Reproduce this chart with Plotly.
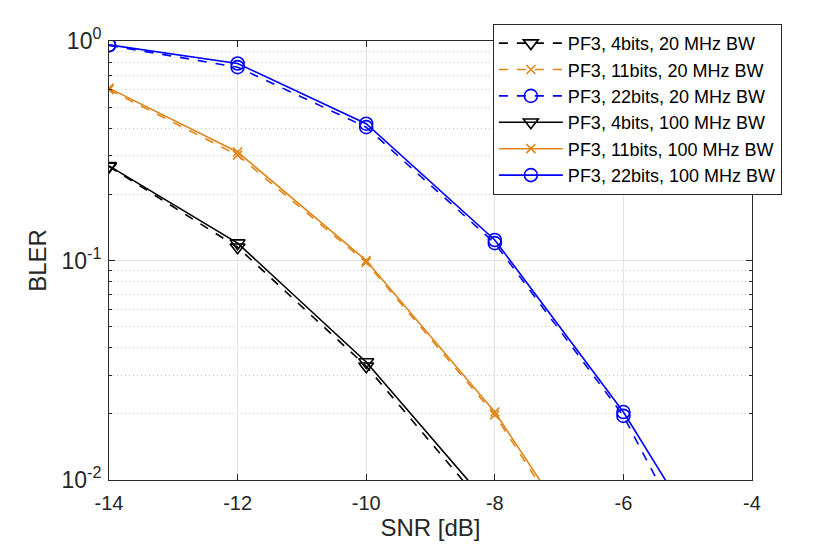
import plotly.graph_objects as go

# SNR points (dB)
snr = [-14, -12, -10, -8, -6, -4]

# BLER, 20 MHz BW (dashed)
bler_4b_20 = [0.268, 0.115, 0.033, 0.0067]
bler_11b_20 = [0.60, 0.302, 0.098, 0.0198, 0.00245]
bler_22b_20 = [0.955, 0.76, 0.405, 0.12, 0.0196, 0.0015]

# BLER, 100 MHz BW (solid)
bler_4b_100 = [0.27, 0.12, 0.0345, 0.0072]
bler_11b_100 = [0.61, 0.312, 0.10, 0.0204, 0.00265]
bler_22b_100 = [0.96, 0.79, 0.42, 0.124, 0.0204, 0.0023]

names = [
    "PF3, 4bits, 20 MHz BW",
    "PF3, 11bits, 20 MHz BW",
    "PF3, 22bits, 20 MHz BW",
    "PF3, 4bits, 100 MHz BW",
    "PF3, 11bits, 100 MHz BW",
    "PF3, 22bits, 100 MHz BW",
]

xtick_vals = [-14, -12, -10, -8, -6, -4]
xtick_text = ["-14", "-12", "-10", "-8", "-6", "-4"]
ytick_vals = [0.01, 0.1, 1]
ytick_text = ["10<sup>-2</sup>", "10<sup>-1</sup>", "10<sup>0</sup>"]
yminor_vals = [m * d for d in (0.01, 0.1) for m in range(2, 10)]

ORANGE = "#E0861A"
FONT = "Liberation Sans, Arial, sans-serif"
series = [
    (bler_4b_20, "black", "dash", "triangle-down-open", 13),
    (bler_11b_20, ORANGE, "dash", "x-thin-open", 9),
    (bler_22b_20, "#0000FF", "dash", "circle-open", 13),
    (bler_4b_100, "black", "solid", "triangle-down-open", 13),
    (bler_11b_100, ORANGE, "solid", "x-thin-open", 9),
    (bler_22b_100, "#0000FF", "solid", "circle-open", 13),
]

fig = go.Figure()
for (vals, color, dash, symbol, size), name in zip(series, names):
    fig.add_trace(
        go.Scatter(
            x=snr[: len(vals)],
            y=vals,
            mode="lines+markers",
            name=name,
            line=dict(color=color, width=1.6, dash=dash),
            marker=dict(
                symbol=symbol,
                size=size,
                color=color,
                line=dict(color=color, width=1.6),
            ),
        )
    )

axis_common = dict(
    showline=True,
    linecolor="#262626",
    linewidth=1,
    mirror="ticks",
    ticks="inside",
    ticklen=6,
    tickcolor="#262626",
    showgrid=True,
    gridcolor="#E3E3E3",
    gridwidth=1,
    zeroline=False,
    automargin=False,
    tickfont=dict(family=FONT, size=20, color="#262626"),
    title_font=dict(family=FONT, size=24, color="#262626"),
)

# the page body adds an 8px offset, so the figure is 8px smaller each way
fig.update_layout(
    width=822,
    height=545,
    margin=dict(l=101, r=78, t=33, b=73),
    plot_bgcolor="white",
    paper_bgcolor="white",
    font=dict(family=FONT, color="black"),
    xaxis=dict(
        axis_common,
        range=[-14, -4],
        tickvals=xtick_vals,
        ticktext=xtick_text,
        ticklabelstandoff=5,
        title=dict(text="SNR [dB]", standoff=6),
    ),
    yaxis=dict(
        axis_common,
        type="log",
        range=[-2, 0],
        tickvals=ytick_vals,
        ticktext=ytick_text,
        tickfont=dict(family=FONT, size=23, color="#262626"),
        ticklabelstandoff=2,
        title=dict(text="BLER", standoff=8),
        minor=dict(
            tickvals=yminor_vals,
            ticks="inside",
            ticklen=3,
            tickcolor="#262626",
            showgrid=True,
            gridcolor="#C8C8C8",
            griddash="1px,3px",
            gridwidth=1,
        ),
    ),
    legend=dict(
        x=0.597,
        y=1.039,
        xanchor="left",
        yanchor="top",
        bgcolor="white",
        bordercolor="#262626",
        borderwidth=1,
        font=dict(family=FONT, size=18, color="black"),
        itemwidth=64,
        tracegroupgap=0,
    ),
    showlegend=True,
)

fig.write_html("out.html")
